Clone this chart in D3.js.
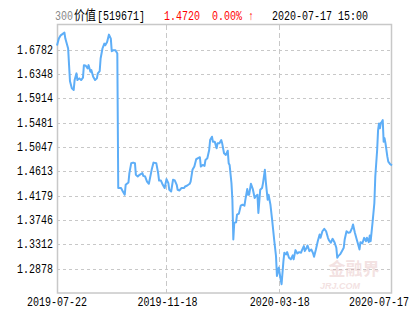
<!DOCTYPE html>
<html>
<head>
<meta charset="utf-8">
<script src="https://cdn.jsdelivr.net/npm/d3@7"></script>
<style>
  body { margin: 0; background: #fff; }
  text { font-family: "Liberation Mono", "DejaVu Sans Mono", monospace; font-size: 10px; }
</style>
</head>
<body>
<script>
const width = 415;
const height = 330;
const margin = { top: 25, right: 23, bottom: 37, left: 57 };

// 标题
const fundPrefix = '300';
const fundName = '价值';
const fundCode = '[519671]';
const lastValue = '1.4720';
const change = '0.00% ↑';
const updated = '2020-07-17 15:00';

// y 轴刻度
const yTicks = [1.2878, 1.3312, 1.3746, 1.4179, 1.4613, 1.5047, 1.5481, 1.5914, 1.6348, 1.6782];
// x 轴刻度
const xTicks = ['2019-07-22', '2019-11-18', '2020-03-18', '2020-07-17'];

// 净值走势
const dates = [
  '2019-07-22','2019-07-24','2019-07-26','2019-07-30','2019-07-31','2019-08-03','2019-08-04','2019-08-05',
  '2019-08-07','2019-08-09','2019-08-10','2019-08-12','2019-08-13','2019-08-15','2019-08-17','2019-08-19',
  '2019-08-20','2019-08-22','2019-08-24','2019-08-25','2019-08-27','2019-08-28','2019-08-30','2019-09-01',
  '2019-09-03','2019-09-04','2019-09-06','2019-09-07','2019-09-09','2019-09-11','2019-09-12','2019-09-14',
  '2019-09-16','2019-09-18','2019-09-19','2019-09-21','2019-09-23','2019-09-25','2019-09-26','2019-09-29',
  '2019-10-01','2019-10-03','2019-10-04','2019-10-07','2019-10-08','2019-10-10','2019-10-12','2019-10-14',
  '2019-10-15','2019-10-17','2019-10-19','2019-10-22','2019-10-23','2019-10-25','2019-10-27','2019-10-29',
  '2019-11-01','2019-11-03','2019-11-06','2019-11-08','2019-11-09','2019-11-11','2019-11-13','2019-11-15',
  '2019-11-17','2019-11-19','2019-11-20','2019-11-22','2019-11-24','2019-11-26','2019-11-28','2019-11-29',
  '2019-12-01','2019-12-03','2019-12-06','2019-12-07','2019-12-09','2019-12-12','2019-12-13','2019-12-15',
  '2019-12-17','2019-12-19','2019-12-21','2019-12-23','2019-12-24','2019-12-26','2019-12-28','2019-12-29',
  '2019-12-31','2020-01-02','2020-01-03','2020-01-05','2020-01-06','2020-01-08','2020-01-10','2020-01-11',
  '2020-01-13','2020-01-15','2020-01-16','2020-01-18','2020-01-20','2020-01-22','2020-01-23','2020-01-24',
  '2020-01-26','2020-01-27','2020-01-28','2020-01-29','2020-01-31','2020-02-01','2020-02-03','2020-02-05',
  '2020-02-07','2020-02-09','2020-02-10','2020-02-12','2020-02-13','2020-02-14','2020-02-16','2020-02-18',
  '2020-02-20','2020-02-21','2020-02-23','2020-02-24','2020-02-26','2020-02-28','2020-02-29','2020-03-02',
  '2020-03-03','2020-03-05','2020-03-06','2020-03-08','2020-03-10','2020-03-12','2020-03-14','2020-03-15',
  '2020-03-17','2020-03-19','2020-03-20','2020-03-22','2020-03-23','2020-03-25','2020-03-26','2020-03-28',
  '2020-03-30','2020-04-01','2020-04-02','2020-04-04','2020-04-06','2020-04-08','2020-04-10','2020-04-11',
  '2020-04-13','2020-04-14','2020-04-16','2020-04-17','2020-04-19','2020-04-21','2020-04-23','2020-04-24',
  '2020-04-26','2020-04-28','2020-04-30','2020-05-01','2020-05-03','2020-05-05','2020-05-07','2020-05-09',
  '2020-05-10','2020-05-12','2020-05-14','2020-05-16','2020-05-18','2020-05-19','2020-05-20','2020-05-22',
  '2020-05-24','2020-05-26','2020-05-27','2020-05-29','2020-05-31','2020-06-02','2020-06-04','2020-06-05',
  '2020-06-07','2020-06-09','2020-06-10','2020-06-12','2020-06-13','2020-06-15','2020-06-17','2020-06-19',
  '2020-06-20','2020-06-22','2020-06-23','2020-06-24','2020-06-26','2020-06-28','2020-06-29','2020-07-01',
  '2020-07-02','2020-07-03','2020-07-04','2020-07-05','2020-07-06','2020-07-07','2020-07-08','2020-07-09',
  '2020-07-10','2020-07-12','2020-07-13','2020-07-15','2020-07-17'
];
const values = [
  1.6853,1.6977,1.7035,1.7083,1.6977,1.6800,1.6504,1.6215,
  1.6091,1.6061,1.6238,1.6357,1.6238,1.6268,1.6238,1.6281,
  1.6504,1.6493,1.6445,1.6504,1.6387,1.6415,1.6298,1.6238,
  1.6268,1.6357,1.6397,1.6623,1.6800,1.6888,1.6858,1.6918,
  1.7048,1.6977,1.6752,1.6770,1.6770,1.6711,1.4314,1.4314,
  1.4253,1.4195,1.4372,1.4413,1.4579,1.4757,1.4767,1.4757,
  1.4549,1.4519,1.4549,1.4579,1.4531,1.4519,1.4430,1.4390,
  1.4638,1.4767,1.4757,1.4579,1.4448,1.4448,1.4372,1.4314,
  1.4473,1.4402,1.4283,1.4253,1.4461,1.4448,1.4372,1.4283,
  1.4271,1.4314,1.4314,1.4342,1.4354,1.4390,1.4430,1.4638,
  1.4696,1.4827,1.4845,1.4863,1.4696,1.4726,1.4709,1.4815,
  1.4845,1.4992,1.5169,1.5228,1.5139,1.5139,1.5022,1.5111,
  1.5111,1.5169,1.5111,1.4934,1.4904,1.4980,1.4757,1.4726,
  1.4402,1.4106,1.3397,1.3693,1.3704,1.3840,1.3858,1.4000,
  1.4018,1.4000,1.4106,1.4296,1.4195,1.4195,1.4390,1.4296,
  1.4136,1.4165,1.4195,1.3870,1.4283,1.4314,1.4402,1.4638,
  1.4430,1.4106,1.4195,1.4018,1.3722,1.3397,1.3101,1.2747,
  1.2896,1.2688,1.2600,1.3013,1.3162,1.3132,1.3172,1.3073,
  1.3043,1.3114,1.3043,1.3208,1.3149,1.3172,1.3162,1.3208,
  1.3279,1.3190,1.3250,1.3291,1.3190,1.3220,1.3149,1.3091,
  1.3220,1.3367,1.3486,1.3427,1.3544,1.3587,1.3544,1.3427,
  1.3385,1.3339,1.3410,1.3350,1.3250,1.3073,1.3101,1.3132,
  1.3190,1.3250,1.3397,1.3544,1.3516,1.3527,1.3605,1.3663,
  1.3516,1.3397,1.3339,1.3220,1.3350,1.3326,1.3427,1.3367,
  1.3427,1.3350,1.3468,1.3367,1.3693,1.4048,1.4519,1.4992,
  1.5347,1.5465,1.5377,1.5476,1.5494,1.5524,1.5139,1.5200,
  1.5111,1.4873,1.4785,1.4739,1.4720
];

const parse = d3.timeParse('%Y-%m-%d');
const data = dates.map((d, i) => ({ date: parse(d), value: values[i] }));

const x = d3.scaleTime()
  .domain([parse(xTicks[0]), parse(xTicks[xTicks.length - 1])])
  .range([margin.left, width - margin.right]);

const y = d3.scaleLinear()
  .domain([1.2444, 1.7219])
  .range([height - margin.bottom, margin.top]);

const svg = d3.select('body')
  .append('svg')
  .attr('width', width)
  .attr('height', height);

// 等宽字体 10px 每字 6px，纵向拉高到 12px
const stretch = (px, py) => `translate(${px},${py}) scale(1,1.2)`;

// 横向虚线网格
svg.append('g')
  .selectAll('line')
  .data(yTicks)
  .enter()
  .append('line')
  .attr('x1', margin.left)
  .attr('x2', width - margin.right)
  .attr('y1', d => Math.round(y(d)) + 0.5)
  .attr('y2', d => Math.round(y(d)) + 0.5)
  .attr('stroke', '#c8c8c8')
  .attr('stroke-dasharray', '3,3');

// 纵向虚线网格
svg.append('g')
  .selectAll('line')
  .data(xTicks.slice(1, -1))
  .enter()
  .append('line')
  .attr('x1', d => Math.round(x(parse(d))) - 0.5)
  .attr('x2', d => Math.round(x(parse(d))) - 0.5)
  .attr('y1', margin.top)
  .attr('y2', height - margin.bottom)
  .attr('stroke', '#c8c8c8')
  .attr('stroke-dasharray', '5,3');

// 水印
const wm = svg.append('g').attr('opacity', 0.3);
wm.append('text')
  .attr('x', 354)
  .attr('y', 275)
  .attr('text-anchor', 'middle')
  .style('font-family', '"Noto Sans CJK SC"')
  .style('font-size', '17px')
  .style('font-weight', 'bold')
  .attr('fill', '#d9a0a0')
  .text('金融界');
wm.append('text')
  .attr('x', 340)
  .attr('y', 289)
  .attr('text-anchor', 'middle')
  .style('font-family', 'Arial, "Liberation Sans"')
  .style('font-size', '9px')
  .style('font-style', 'italic')
  .style('font-weight', 'bold')
  .attr('fill', '#d9a0a0')
  .text('JRJ.COM');

// 边框
svg.append('rect')
  .attr('x', margin.left + 0.5)
  .attr('y', margin.top - 0.5)
  .attr('width', width - margin.left - margin.right - 1)
  .attr('height', height - margin.top - margin.bottom + 0.5)
  .attr('fill', 'none')
  .attr('stroke', '#c8c8c8')
  .attr('stroke-width', 1.5);

// 净值线
const line = d3.line()
  .x(d => x(d.date))
  .y(d => y(d.value));

svg.append('path')
  .datum(data)
  .attr('d', line)
  .attr('fill', 'none')
  .attr('stroke', '#5eaef7')
  .attr('stroke-width', 2)
  .attr('stroke-linejoin', 'round');

// y 轴标签
svg.append('g')
  .selectAll('text')
  .data(yTicks)
  .enter()
  .append('text')
  .attr('transform', d => stretch(53, y(d) + 4))
  .attr('text-anchor', 'end')
  .attr('fill', '#000')
  .text(d => d.toFixed(4));

// x 轴标签
svg.append('g')
  .selectAll('text')
  .data(xTicks)
  .enter()
  .append('text')
  .attr('transform', (d, i) => stretch(i === xTicks.length - 1 ? width - 6 : x(parse(d)), 306))
  .attr('text-anchor', (d, i) => i === xTicks.length - 1 ? 'end' : 'middle')
  .attr('fill', '#000')
  .text(d => d);

// 标题
const title = svg.append('text')
  .attr('transform', stretch(55, 20));
title.append('tspan').attr('fill', '#888').text(fundPrefix);
title.append('tspan')
  .attr('dx', 1)
  .style('font-family', '"Noto Sans CJK SC"')
  .style('font-size', '11px')
  .attr('fill', '#000')
  .text(fundName);
title.append('tspan').attr('dx', 1).attr('fill', '#000').text(fundCode);

svg.append('text')
  .attr('transform', stretch(164, 20))
  .attr('fill', '#f00')
  .text(lastValue);
svg.append('text')
  .attr('transform', stretch(212, 20))
  .attr('fill', '#f00')
  .text(change);
svg.append('text')
  .attr('transform', stretch(272, 20))
  .attr('fill', '#000')
  .text(updated);
</script>
</body>
</html>
